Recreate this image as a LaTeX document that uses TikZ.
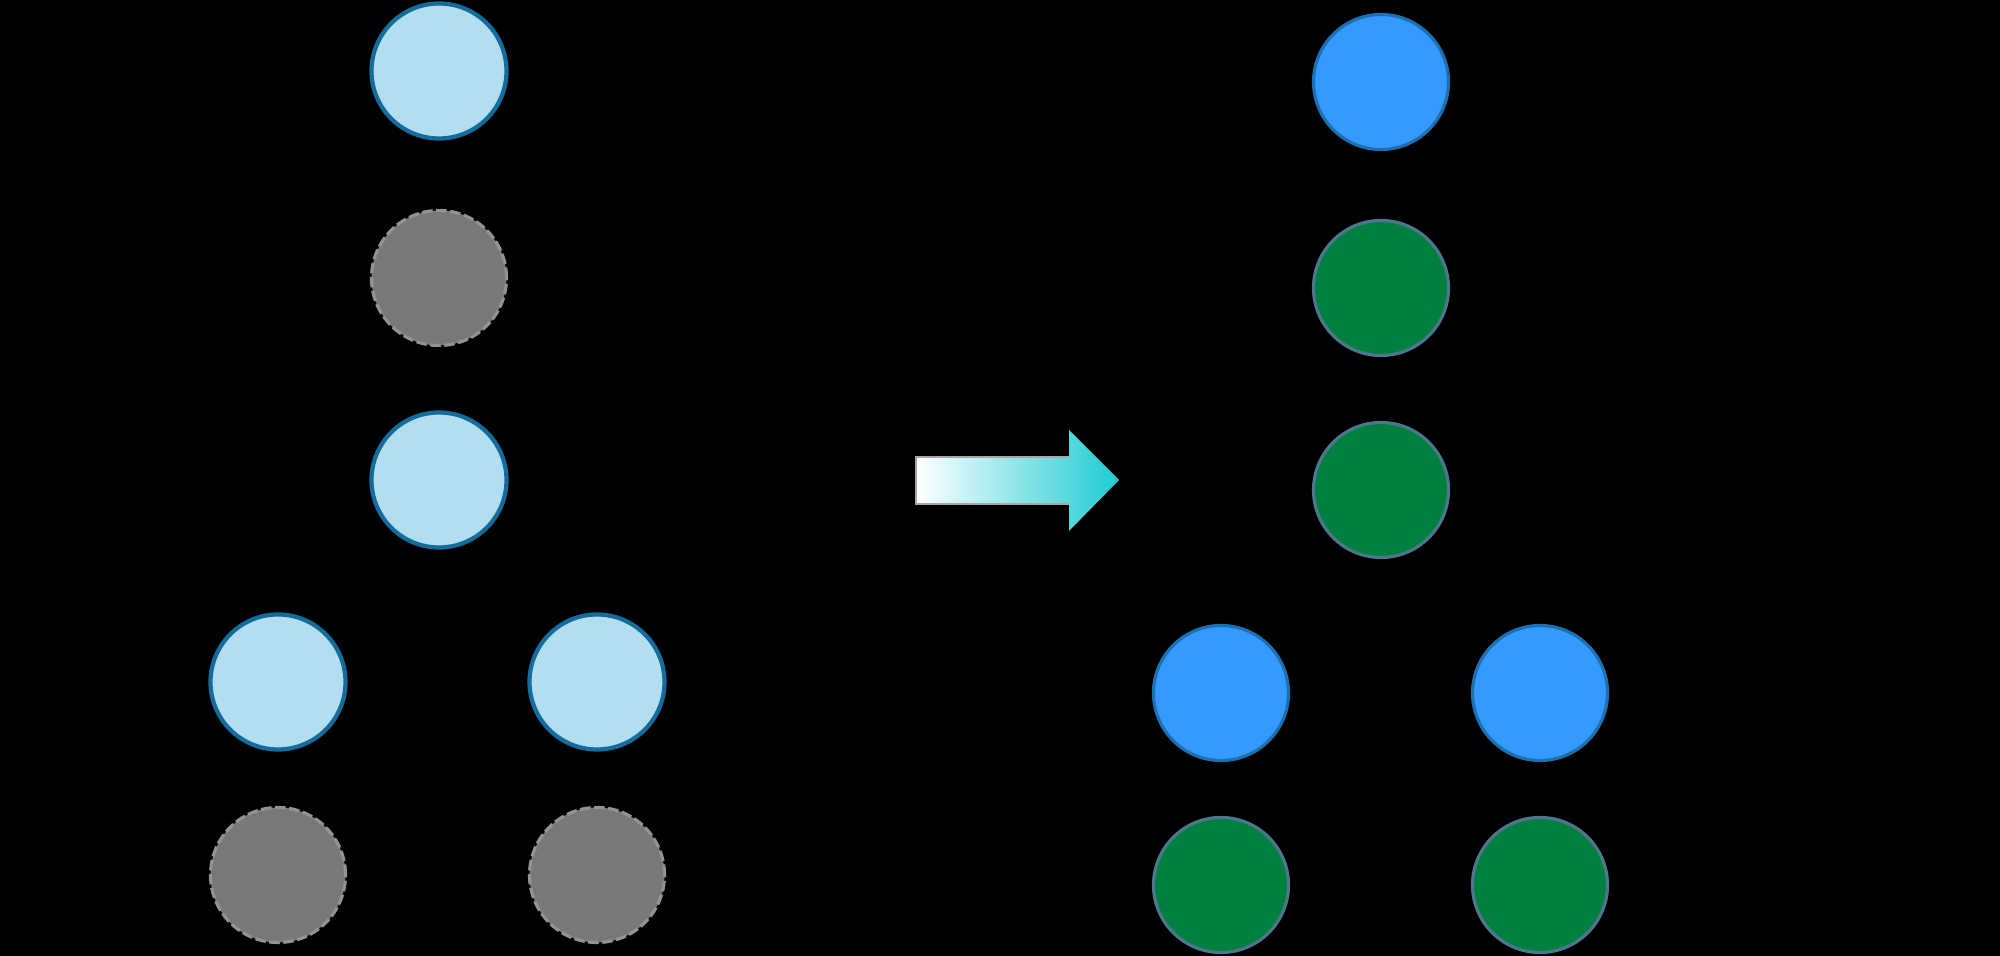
\documentclass[tikz,border=0pt]{standalone}
\usepackage{tikz}
\usetikzlibrary{arrows}
\definecolor{celeste}{RGB}{178,222,240}
\definecolor{bordoceleste}{RGB}{20,108,156}
\definecolor{grigio}{RGB}{120,120,120}
\definecolor{azzurro}{RGB}{52,154,255}
\definecolor{bordoazzurro}{RGB}{28,112,176}
\definecolor{verde}{RGB}{0,128,64}
\definecolor{bordoverde}{RGB}{78,118,140}
\definecolor{ciano}{RGB}{30,204,210}
\tikzset{
  nodo/.style={circle,minimum size=1.35cm,inner sep=0pt,line width=0.9pt},
  vecchio/.style={nodo,fill=celeste,draw=bordoceleste,line width=1.2pt},
  vuoto/.style={nodo,fill=grigio,draw=gray!85,dash pattern=on 3pt off 1pt},
  nuovo/.style={nodo,fill=azzurro,draw=bordoazzurro},
  pieno/.style={nodo,fill=verde,draw=bordoverde}
}
\begin{document}
\begin{tikzpicture}[>=latex]
		\useasboundingbox (0,0) rectangle (20,9.56);
		\fill [black] (0,0) rectangle (20,9.56);
		% Albero prima
		\node [vecchio] (a1) at (4.39,8.85) {};
		\node [vuoto] (a2) at (4.39,6.78) {};
		\node [vecchio] (a3) at (4.39,4.76) {};
		\node [vecchio] (a4) at (2.78,2.74) {};
		\node [vecchio] (a5) at (5.97,2.74) {};
		\node [vuoto] (a6) at (2.78,0.81) {};
		\node [vuoto] (a7) at (5.97,0.81) {};
		
		% Freccia
		\shade [left color=white,right color=ciano]
		(9.16,4.99) -- (10.69,4.99) -- (10.69,5.26) -- (11.19,4.76) --
		(10.69,4.25) -- (10.69,4.52) -- (9.16,4.52) -- cycle;
		\draw [gray!70,line width=0.6pt] (10.69,4.99) -- (9.16,4.99) -- (9.16,4.52) -- (10.69,4.52);
		
		% Albero dopo
		\node [nuovo] (b1) at (13.81,8.74) {};
		\node [pieno] (b2) at (13.81,6.68) {};
		\node [pieno] (b3) at (13.81,4.66) {};
		\node [nuovo] (b4) at (12.21,2.63) {};
		\node [nuovo] (b5) at (15.40,2.63) {};
		\node [pieno] (b6) at (12.21,0.71) {};
		\node [pieno] (b7) at (15.40,0.71) {};
		
		% Archi
		\foreach \t in {a,b}{
			\draw [black] (\t1) -- (\t2);
			\draw [black] (\t2) -- (\t3);
			\draw [black] (\t3) -- (\t4);
			\draw [black] (\t3) -- (\t5);
			\draw [black] (\t4) -- (\t6);
			\draw [black] (\t5) -- (\t7);
		}
	\end{tikzpicture}
\end{document}
